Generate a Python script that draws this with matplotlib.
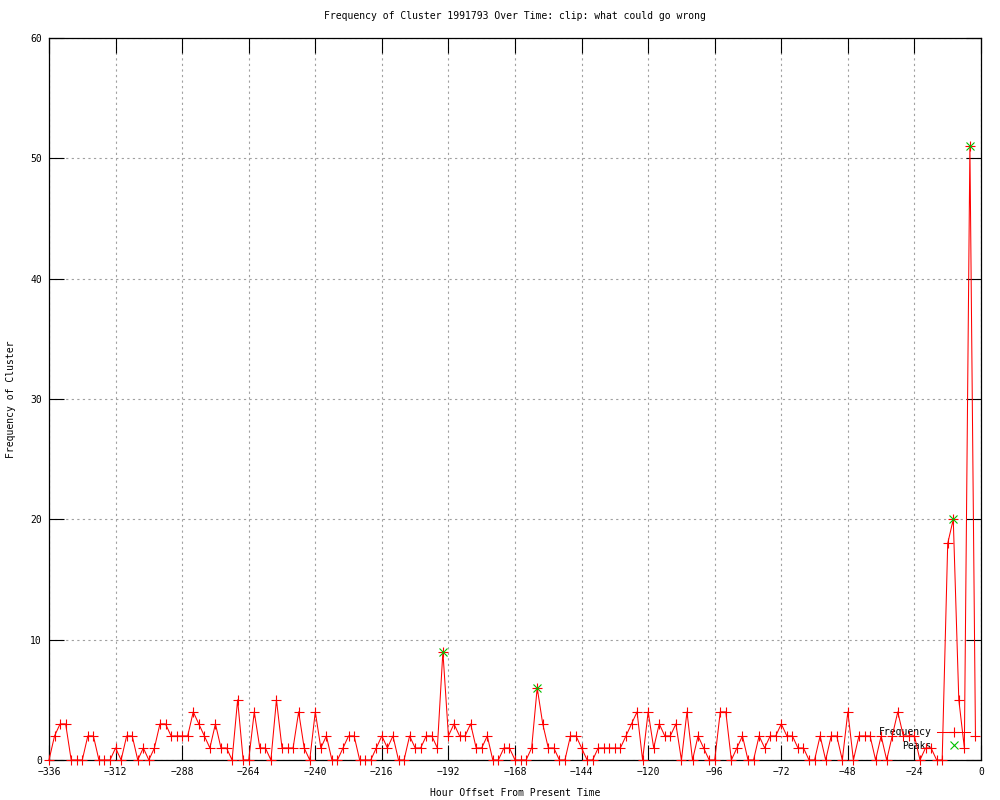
import numpy as np
import matplotlib
matplotlib.use("Agg")
import matplotlib.pyplot as plt

# ---- data ----
hours = list(range(-336, 0, 2))
frequency = [
    0, 2, 3, 3, 0, 0, 0, 2, 2, 0, 0, 0, 1, 0, 2, 2,
    0, 1, 0, 1, 3, 3, 2, 2, 2, 2, 4, 3, 2, 1, 3, 1,
    1, 0, 5, 0, 0, 4, 1, 1, 0, 5, 1, 1, 1, 4, 1, 0,
    4, 1, 2, 0, 0, 1, 2, 2, 0, 0, 0, 1, 2, 1, 2, 0,
    0, 2, 1, 1, 2, 2, 1, 9, 2, 3, 2, 2, 3, 1, 1, 2,
    0, 0, 1, 1, 0, 0, 0, 1, 6, 3, 1, 1, 0, 0, 2, 2,
    1, 0, 0, 1, 1, 1, 1, 1, 2, 3, 4, 0, 4, 1, 3, 2,
    2, 3, 0, 4, 0, 2, 1, 0, 0, 4, 4, 0, 1, 2, 0, 0,
    2, 1, 2, 2, 3, 2, 2, 1, 1, 0, 0, 2, 0, 2, 2, 0,
    4, 0, 2, 2, 2, 0, 2, 0, 2, 4, 2, 2, 2, 0, 1, 1,
    0, 0, 18, 20, 5, 1, 51, 2,
]
peak_hours = [-194, -160, -10, -4]
peak_values = [9, 6, 20, 51]
xticks = list(range(-336, 1, 24))
yticks = list(range(0, 61, 10))

title = "Frequency of Cluster 1991793 Over Time: clip: what could go wrong"
xlabel = "Hour Offset From Present Time"
ylabel = "Frequency of Cluster"

plt.rcParams['font.family'] = ['DejaVu Sans Mono']
FS = 7

fig = plt.figure(figsize=(10, 8), dpi=100)
ax = fig.add_axes([0.049, 0.05, 0.932, 0.9025])

ax.plot(hours, frequency, color='#ff0000', linewidth=0.75, marker='+',
        markersize=7, markeredgewidth=0.8, clip_on=False, zorder=3,
        label='Frequency')
ax.plot(peak_hours, peak_values, linestyle='none', color='#00c000', marker='x',
        markersize=6, markeredgewidth=0.8, clip_on=False, zorder=4,
        label='Peaks')

ax.set_xlim(-336, 0)
ax.set_ylim(0, 60)
ax.set_xticks(xticks)
ax.set_yticks(yticks)
ax.tick_params(direction='in', top=True, right=True, length=11, width=0.8,
               labelsize=FS, pad=5, colors='black')
ax.grid(True, color='#a0a0a0', linestyle=(0, (2, 3)), linewidth=0.8)
for s in ax.spines.values():
    s.set_linewidth(0.9)
    s.set_color('black')

ax.set_title(title, fontsize=FS, pad=14)
ax.set_xlabel(xlabel, fontsize=FS, labelpad=8)
ax.set_ylabel(ylabel, fontsize=FS, labelpad=10)

leg = ax.legend(loc='lower right', bbox_to_anchor=(0.9885, 0.013), markerfirst=False,
                frameon=False, fontsize=FS, handlelength=3.4, handletextpad=0.6,
                labelspacing=0.35, borderpad=0, borderaxespad=0)
leg.set_zorder(2)

fig.savefig('out.png', dpi=100)
